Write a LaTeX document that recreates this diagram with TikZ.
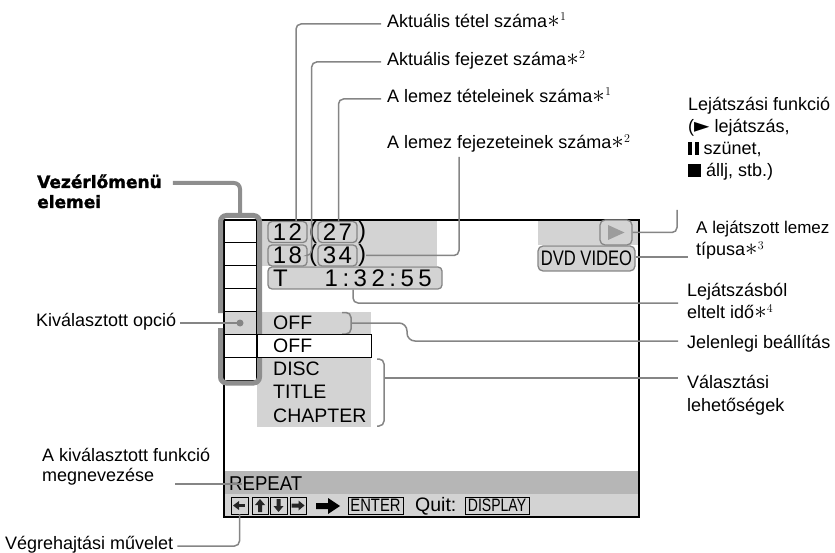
\documentclass[tikz,border=0pt]{standalone}
\usepackage{fontspec}
\usepackage{graphicx}
\setmainfont{Liberation Sans}
\newfontfamily\dejavu{DejaVu Sans}
\newfontfamily\heavy[FakeBold=1.6]{DejaVu Sans Bold}
\usetikzlibrary{arrows.meta,calc}
\definecolor{lgrey}{HTML}{D3D3D3}
\definecolor{dgrey}{HTML}{B6B6B6}
\definecolor{lnc}{HTML}{858585}
\definecolor{frm}{HTML}{8E8E8E}
\definecolor{tri}{HTML}{9C9C9C}
\newcommand{\fnmark}[1]{{\fontsize{24}{24}\selectfont$\ast$}\kern0.3pt\raisebox{6.5pt}{\fontsize{13}{13}\selectfont$#1$}}
\tikzset{
 lbl/.style={anchor=base west, inner sep=0pt, font=\fontsize{18}{21}\selectfont},
 conn/.style={draw=lnc, line width=1.5pt, rounded corners=5pt},
 nbox/.style={draw=lnc, line width=1.3pt, fill=lgrey, rounded corners=4pt, inner sep=0pt, minimum height=21pt, minimum width=39pt, font=\fontsize{24}{24}\selectfont},
 paren/.style={inner sep=0pt, font=\fontsize{24}{24}\selectfont},
 cell/.style={draw=black, line width=1pt, minimum width=32pt, minimum height=22.86pt, inner sep=0pt},
 scr/.style={anchor=west, inner sep=0pt, font=\fontsize{19.5}{20}\selectfont},
 keybox/.style={draw=black, line width=0.9pt, minimum height=17pt, inner sep=0pt},
}
\begin{document}
\begin{tikzpicture}[x=1pt,y=-1pt]
\useasboundingbox (0,0) rectangle (835,553);
% ---------- screen backgrounds
\fill[lgrey] (262,220) rectangle (437,266);
\fill[lgrey] (538,220) rectangle (639,245);
\fill[lgrey] (257,312) rectangle (371,334);
\fill[lgrey] (257,357) rectangle (371,427);
\fill[dgrey] (224,471) rectangle (639,494);
\fill[lgrey] (224,494) rectangle (639,517);
\draw[black, line width=1.8pt] (224,220) rectangle (639,517);
% ---------- menu cells
\foreach \i in {1,...,7}{
  \node[cell] (c\i) at (240,{220+22.86*(\i-0.5)}) {};
}
\node[cell, fill=lgrey] (c5) at (240,{220+22.86*4.5}) {};
\node[circle, fill=lnc, inner sep=0pt, minimum size=7pt] (dot) at (240,323) {};
\coordinate (frtop) at (240,215.5);
\draw[frm, line width=5pt, rounded corners=6pt] (220.5,313) -- (220.5,215.5) -- (259.5,215.5) -- (259.5,383) -- (220.5,383) -- (220.5,328);
% ---------- info boxes
\node[nbox] (b12) at (287.5,232) {1\hspace{2.5pt}2};
\node[paren] (p1) at (313,232) {(};
\node[nbox] (b27) at (337.5,232) {2\hspace{2.5pt}7};
\node[paren] (p2) at (362,232) {)};
\node[nbox] (b18) at (287.5,255.5) {1\hspace{2.5pt}8};
\node[paren] (p3) at (313,255.5) {(};
\node[nbox] (b34) at (337.5,255.5) {3\hspace{2.5pt}4};
\node[paren] (p4) at (362,255.5) {)};
\node[nbox, minimum width=174pt, minimum height=22pt] (tb) at (355,278) {};
\node[paren, anchor=west] (tT) at (273,278) {T};
\node[paren, anchor=east] (tt) at (432,278) {1\hspace{4.5pt}:\hspace{4.5pt}3\hspace{4.5pt}2\hspace{4.5pt}:\hspace{4.5pt}5\hspace{4.5pt}5};
\node[draw=lnc, line width=1.3pt, fill=lgrey, rounded corners=5pt, minimum width=32pt, minimum height=25pt, inner sep=0pt] (play) at (616,232.5) {};
\fill[tri] (608,225) -- (624.5,232.5) -- (608,240) -- cycle;
\node[draw=lnc, line width=1.3pt, fill=lgrey, rounded corners=5pt, minimum width=97pt, minimum height=25pt, inner sep=0pt, font=\fontsize{21}{21}\selectfont] (dvd) at (586.5,258.5) {\scalebox{0.79}[1]{DVD VIDEO}};
% ---------- menu options
\node[scr] (off1) at (273,323) {OFF};
\draw[lnc, line width=1.5pt, rounded corners=5pt] (342,312.5) -- (351,312.5) -- (351,334) -- (342,334);
\coordinate (offbr) at (351,323);
\node[draw=black, line width=1pt, fill=white, minimum width=114pt, minimum height=23pt, inner sep=0pt] (offbox) at (314,345.5) {};
\node[scr] (off2) at (273,345.5) {OFF};
\node[scr] (disc) at (273,368.7) {DISC};
\node[scr] (title) at (273,392) {TITLE};
\node[scr] (chap) at (273,415.3) {CHAPTER};
\draw[lnc, line width=1.5pt, rounded corners=5pt] (377,359) -- (384,359) -- (384,426) -- (377,426);
\coordinate (optbr) at (384,378);
% ---------- bottom bar
\node[scr, font=\fontsize{20}{20}\selectfont] (rep) at (229,484) {\scalebox{0.93}[1]{REPEAT}};
\node[keybox, minimum width=17pt] (k1) at (239.5,505.5) {};
\node[keybox, minimum width=16pt] (k2) at (260,505.5) {};
\node[keybox, minimum width=17pt] (k3) at (278.5,505.5) {};
\node[keybox, minimum width=16pt] (k4) at (298,505.5) {};
% key symbols
\fill[black!85] (233,505.5) -- (239,501) -- (239,510) -- cycle;
\fill[black!85] (238.5,504.3) rectangle (244.5,506.7);
\fill[black!85] (260,499) -- (265,505) -- (262,505) -- (262,512) -- (258,512) -- (258,505) -- (255,505) -- cycle;
\fill[black!85] (278.5,512) -- (283.5,506) -- (280.5,506) -- (280.5,499) -- (276.5,499) -- (276.5,506) -- (273.5,506) -- cycle;
\fill[black!85] (304.5,505.5) -- (298.5,500.5) -- (298.5,503.5) -- (291.5,503.5) -- (291.5,507.5) -- (298.5,507.5) -- (298.5,510.5) -- cycle;
% big arrow
\fill[black] (316,503) -- (328,503) -- (328,498) -- (340,506) -- (328,514) -- (328,509) -- (316,509) -- cycle;
\node[keybox, minimum width=55pt, font=\fontsize{18}{18}\selectfont] (enter) at (375.5,505.5) {\scalebox{0.82}[1]{ENTER}};
\node[scr] (quit) at (415,506) {Quit:};
\node[keybox, minimum width=64pt, font=\fontsize{18}{18}\selectfont] (disp) at (497,505.5) {\scalebox{0.78}[1]{DISPLAY}};
% ---------- labels top
\node[lbl] (t1) at (387,27.5) {Aktuális tétel száma\fnmark{1}};
\node[lbl] (t2) at (387,65.5) {Aktuális fejezet száma\fnmark{2}};
\node[lbl] (t3) at (387,102.5) {A lemez tételeinek száma\fnmark{1}};
\node[lbl] (t4) at (387,149) {A lemez fejezeteinek száma\fnmark{2}};
\draw[conn] ([xshift=-6pt,yshift=3.5pt]t1.base west) -| ([xshift=8.5pt]b12.north);
\draw[conn] ([xshift=-6pt,yshift=3.5pt]t2.base west) -| ([xshift=4pt]b18.east) -- (b18.east);
\draw[conn] ([xshift=-6pt,yshift=3.5pt]t3.base west) -| ([xshift=1pt]b27.north);
\draw[conn] ([xshift=72pt,yshift=-8pt]t4.base west) |- (b34.east -| p4.east);
% ---------- labels right
\node[lbl] (pf1) at (688,111) {Lejátszási funkció};
\node[lbl] (pf2) at (688,133) {({\dejavu\fontsize{20}{20}\selectfont ►} lejátszás,};
\node[lbl] (pf3) at (688,155) {\rule{4pt}{13pt}\hspace{2.5pt}\rule{4pt}{13pt} szünet,};
\node[lbl] (pf4) at (688,177) {\rule{13pt}{13pt} állj, stb.)};
\coordinate (pfS) at (677,210);
\draw[conn] (pfS) |- (play.east);
\node[lbl, font=\fontsize{17}{20}\selectfont] (lt1) at (696,234) {A lejátszott lemez};
\node[lbl] (lt2) at (696,256) {típusa\fnmark{3}};
\coordinate (lt2W) at (688,257);
\draw[conn] (dvd.east |- lt2W) -- (lt2W);
\node[lbl] (le1) at (687,297) {Lejátszásból};
\node[lbl] (le2) at (687,319) {eltelt idő\fnmark{4}};
\coordinate (leW) at (678,303);
\draw[conn] ([xshift=-2pt]tb.south) |- (leW);
\node[lbl] (jel) at (687,348) {Jelenlegi beállítás};
\coordinate (jelW) at (678,341);
\draw[conn, rounded corners=8pt] (offbr) -- (407,323) -- (407,341) -- (jelW);
\node[lbl] (va1) at (687,388.5) {Választási};
\node[lbl] (va2) at (687,411) {lehetőségek};
\coordinate (vaW) at (678,378);
\draw[conn] (optbr) -- (vaW);
% ---------- labels left
\node[lbl, font=\heavy\fontsize{17}{20}\selectfont] (vez1) at (37,188) {Vezérlőmenü};
\node[lbl, font=\heavy\fontsize{17}{20}\selectfont] (vez2) at (37,208) {elemei};
\draw[frm, line width=4pt, rounded corners=6pt] ([xshift=11pt,yshift=5pt]vez1.base east) -| (frtop);
\node[lbl] (kiv) at (36,326) {Kiválasztott opció};
\draw[conn] ([xshift=4pt,yshift=3pt]kiv.base east) -- (dot.center);
\node[lbl] (ak1) at (42,461) {A kiválasztott funkció};
\node[lbl] (ak2) at (42,481) {megnevezése};
\coordinate (akE) at (175,484);
\draw[conn] (akE) -- ([xshift=13pt]rep.west);
\node[lbl] (vh) at (5,549.5) {Végrehajtási művelet};
\draw[conn] ([xshift=4pt,yshift=3.5pt]vh.base east) -| (k1.south);
\end{tikzpicture}
\end{document}
